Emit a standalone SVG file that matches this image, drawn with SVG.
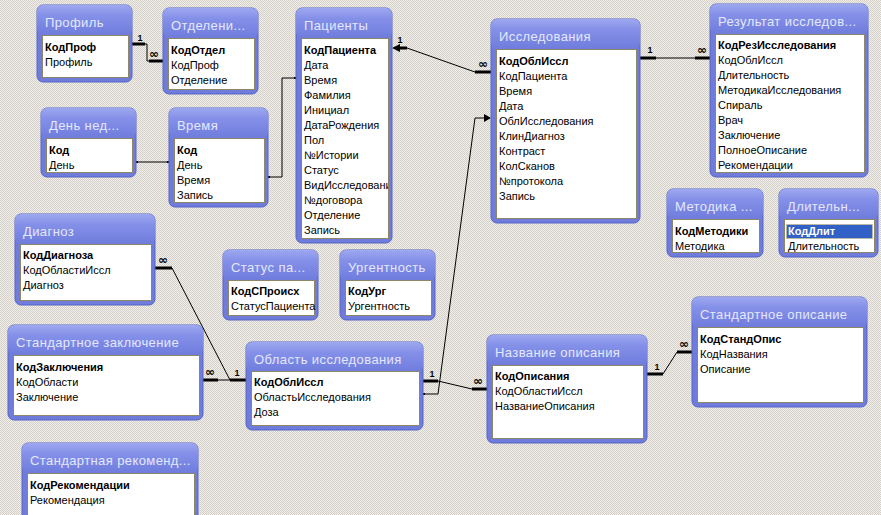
<svg xmlns="http://www.w3.org/2000/svg" width="881" height="515" viewBox="0 0 881 515">
<defs>
<pattern id="bg" width="2" height="2" patternUnits="userSpaceOnUse"><rect width="2" height="2" fill="#f1f0ec"/><rect width="1" height="1" fill="#d3cfc6"/><rect x="1" y="1" width="1" height="1" fill="#d3cfc6"/></pattern>
<linearGradient id="hd" x1="0" y1="0" x2="0" y2="1"><stop offset="0" stop-color="#9ea8f0"/><stop offset="0.35" stop-color="#8490e8"/><stop offset="1" stop-color="#6f7cdc"/></linearGradient>
<clipPath id="cpPac"><rect x="301" y="38" width="87" height="201"/></clipPath>
</defs>
<style>
.frame{fill:#6f7cdc;stroke:#5664c6;stroke-width:1}
.head{fill:url(#hd)}
.title{font-family:"Liberation Sans",Arial,sans-serif;font-size:13px;fill:#e4e8ff;letter-spacing:0.4px}
.list{fill:#ffffff;stroke:#8e8766;stroke-width:1}
.r{font-family:"Liberation Sans",Arial,sans-serif;font-size:11px;fill:#000}
.k{font-family:"Liberation Sans",Arial,sans-serif;font-size:11px;font-weight:bold;fill:#000}
.thin{fill:none;stroke:#000;stroke-width:1}
.thick{fill:none;stroke:#000;stroke-width:3}
.one{font-family:"Liberation Sans",Arial,sans-serif;font-size:9px;font-weight:bold;fill:#000;text-anchor:middle}
.inf{font-family:"DejaVu Sans",sans-serif;font-size:12px;font-weight:bold;fill:#000;text-anchor:middle}
</style>
<rect width="881" height="515" fill="url(#bg)"/>

<g id="connectors">
<!-- Профиль - Отделения -->
<polyline class="thin" points="132,44 147,44 147,61 163,61"/>
<line class="thick" x1="132" y1="44" x2="145" y2="44"/>
<line class="thick" x1="149" y1="61" x2="163" y2="61"/>
<text class="one" x="140" y="41">1</text>
<text class="inf" x="154" y="58">∞</text>
<!-- День недели - Время -->
<line class="thin" x1="136" y1="162" x2="169" y2="162"/>
<rect x="136" y="161" width="2" height="2"/><rect x="167" y="161" width="2" height="2"/>
<!-- Время - Пациенты -->
<polyline class="thin" points="268,177 282,177 282,78 296,78"/>
<rect x="268" y="176" width="2" height="2"/><rect x="294" y="77" width="2" height="2"/>
<!-- Исследования - Пациенты -->
<line class="thick" x1="398" y1="48" x2="407" y2="48"/>
<polygon points="392,48 400,44 400,52"/>
<polyline class="thin" points="407,48 475,72"/>
<line class="thick" x1="475" y1="72" x2="491" y2="72"/>
<text class="one" x="400" y="43">1</text>
<text class="inf" x="483" y="68">∞</text>
<!-- Исследования - Результат -->
<line class="thick" x1="640" y1="58" x2="656" y2="58"/>
<line class="thin" x1="656" y1="58" x2="695" y2="58"/>
<line class="thick" x1="695" y1="58" x2="710" y2="58"/>
<text class="one" x="650" y="53">1</text>
<text class="inf" x="702" y="54">∞</text>
<!-- Область исследования - Исследования -->
<polyline class="thin" points="423,394 438,394 475,118 486,118"/>
<polygon points="491,118 484,114 484,122"/>
<rect x="423" y="393" width="2" height="2"/>
<!-- Область исследования - Название описания -->
<line class="thick" x1="423" y1="381" x2="438" y2="381"/>
<polyline class="thin" points="438,381 472,389"/>
<line class="thick" x1="472" y1="389" x2="487" y2="389"/>
<text class="one" x="432" y="377">1</text>
<text class="inf" x="478" y="385">∞</text>
<!-- Диагноз - Область исследования -->
<line class="thick" x1="155" y1="268" x2="172" y2="268"/>
<polyline class="thin" points="172,268 230,380"/>
<line class="thick" x1="230" y1="380" x2="246" y2="380"/>
<text class="inf" x="163" y="264">∞</text>
<text class="one" x="237" y="376">1</text>
<!-- Стандартное заключение - Область исследования -->
<line class="thick" x1="203" y1="380" x2="218" y2="380"/>
<line class="thin" x1="218" y1="380" x2="230" y2="380"/>
<text class="inf" x="210" y="376">∞</text>
<!-- Название описания - Стандартное описание -->
<line class="thick" x1="647" y1="374" x2="663" y2="374"/>
<polyline class="thin" points="663,374 677,352"/>
<line class="thick" x1="677" y1="352" x2="692" y2="352"/>
<text class="one" x="657" y="370">1</text>
<text class="inf" x="684" y="348">∞</text>
</g>

<g id="t-profil">
<rect class="frame" x="37" y="5" width="95" height="77" rx="6"/>
<rect class="head" x="37" y="5" width="95" height="30" rx="6"/>
<text class="title" x="45" y="27">Профиль</text>
<rect class="list" x="42.5" y="35.5" width="86" height="42"/>
<text class="k" x="45" y="51">КодПроф</text>
<text class="r" x="45" y="66">Профиль</text>
</g>

<g id="t-otdel">
<rect class="frame" x="163" y="8" width="95" height="86" rx="6"/>
<rect class="head" x="163" y="8" width="95" height="30" rx="6"/>
<text class="title" x="171" y="30">Отделени...</text>
<rect class="list" x="168.5" y="38.5" width="86" height="51"/>
<text class="k" x="171" y="54">КодОтдел</text>
<text class="r" x="171" y="69">КодПроф</text>
<text class="r" x="171" y="84">Отделение</text>
</g>

<g id="t-pacienty">
<rect class="frame" x="296" y="8" width="96" height="235" rx="6"/>
<rect class="head" x="296" y="8" width="96" height="30" rx="6"/>
<text class="title" x="304" y="30">Пациенты</text>
<rect class="list" x="301.5" y="38.5" width="87" height="200"/>
<g clip-path="url(#cpPac)">
<text class="k" x="304" y="54">КодПациента</text>
<text class="r" x="304" y="69">Дата</text>
<text class="r" x="304" y="84">Время</text>
<text class="r" x="304" y="99">Фамилия</text>
<text class="r" x="304" y="114">Инициал</text>
<text class="r" x="304" y="129">ДатаРождения</text>
<text class="r" x="304" y="144">Пол</text>
<text class="r" x="304" y="159">№Истории</text>
<text class="r" x="304" y="174">Статус</text>
<text class="r" x="304" y="189">ВидИсследования</text>
<text class="r" x="304" y="204">№договора</text>
<text class="r" x="304" y="219">Отделение</text>
<text class="r" x="304" y="234">Запись</text>
</g>
</g>

<g id="t-issled">
<rect class="frame" x="491" y="19" width="149" height="204" rx="6"/>
<rect class="head" x="491" y="19" width="149" height="30" rx="6"/>
<text class="title" x="499" y="41">Исследования</text>
<rect class="list" x="496.5" y="49.5" width="140" height="169"/>
<text class="k" x="499" y="65">КодОблИссл</text>
<text class="r" x="499" y="80">КодПациента</text>
<text class="r" x="499" y="95">Время</text>
<text class="r" x="499" y="110">Дата</text>
<text class="r" x="499" y="125">ОблИсследования</text>
<text class="r" x="499" y="140">КлинДиагноз</text>
<text class="r" x="499" y="155">Контраст</text>
<text class="r" x="499" y="170">КолСканов</text>
<text class="r" x="499" y="185">№протокола</text>
<text class="r" x="499" y="200">Запись</text>
</g>

<g id="t-rezultat">
<rect class="frame" x="710" y="4" width="158" height="173" rx="6"/>
<rect class="head" x="710" y="4" width="158" height="30" rx="6"/>
<text class="title" x="718" y="26">Результат исследов...</text>
<rect class="list" x="715.5" y="34.5" width="149" height="138"/>
<text class="k" x="718" y="49">КодРезИсследования</text>
<text class="r" x="718" y="64">КодОблИссл</text>
<text class="r" x="718" y="79">Длительность</text>
<text class="r" x="718" y="94">МетодикаИсследования</text>
<text class="r" x="718" y="109">Спираль</text>
<text class="r" x="718" y="124">Врач</text>
<text class="r" x="718" y="139">Заключение</text>
<text class="r" x="718" y="154">ПолноеОписание</text>
<text class="r" x="718" y="169">Рекомендации</text>
</g>

<g id="t-metodika">
<rect class="frame" x="667" y="189" width="96" height="68" rx="6"/>
<rect class="head" x="667" y="189" width="96" height="30" rx="6"/>
<text class="title" x="675" y="211">Методика ...</text>
<rect class="list" x="672.5" y="219.5" width="87" height="33"/>
<text class="k" x="675" y="235">КодМетодики</text>
<text class="r" x="675" y="250">Методика</text>
</g>

<g id="t-dlit">
<rect class="frame" x="779" y="189" width="99" height="68" rx="6"/>
<rect class="head" x="779" y="189" width="99" height="30" rx="6"/>
<text class="title" x="787" y="211">Длительн...</text>
<rect class="list" x="784.5" y="219.5" width="90" height="33"/>
<rect x="786.5" y="224.5" width="86" height="14" fill="#3161c6" stroke="#d8c070" stroke-width="1" stroke-dasharray="1,1"/>
<text class="k" x="788" y="235" fill="#ffffff" style="fill:#ffffff">КодДлит</text>
<text class="r" x="788" y="250">Длительность</text>
</g>

<g id="t-den">
<rect class="frame" x="41" y="108" width="95" height="69" rx="6"/>
<rect class="head" x="41" y="108" width="95" height="30" rx="6"/>
<text class="title" x="49" y="130">День нед...</text>
<rect class="list" x="46.5" y="138.5" width="86" height="34"/>
<text class="k" x="49" y="154">Код</text>
<text class="r" x="49" y="169">День</text>
</g>

<g id="t-vremya">
<rect class="frame" x="169" y="108" width="99" height="99" rx="6"/>
<rect class="head" x="169" y="108" width="99" height="30" rx="6"/>
<text class="title" x="177" y="130">Время</text>
<rect class="list" x="174.5" y="138.5" width="90" height="64"/>
<text class="k" x="177" y="154">Код</text>
<text class="r" x="177" y="169">День</text>
<text class="r" x="177" y="184">Время</text>
<text class="r" x="177" y="199">Запись</text>
</g>

<g id="t-diagnoz">
<rect class="frame" x="15" y="214" width="140" height="91" rx="6"/>
<rect class="head" x="15" y="214" width="140" height="30" rx="6"/>
<text class="title" x="23" y="236">Диагноз</text>
<rect class="list" x="20.5" y="244.5" width="131" height="56"/>
<text class="k" x="23" y="259">КодДиагноза</text>
<text class="r" x="23" y="274">КодОбластиИссл</text>
<text class="r" x="23" y="289">Диагноз</text>
</g>

<g id="t-status">
<rect class="frame" x="223" y="250" width="95" height="70" rx="6"/>
<rect class="head" x="223" y="250" width="95" height="30" rx="6"/>
<text class="title" x="231" y="272">Статус па...</text>
<rect class="list" x="228.5" y="280.5" width="86" height="35"/>
<text class="k" x="231" y="295">КодСПроисх</text>
<text class="r" x="231" y="310">СтатусПациента</text>
</g>

<g id="t-urgent">
<rect class="frame" x="340" y="250" width="95" height="70" rx="6"/>
<rect class="head" x="340" y="250" width="95" height="30" rx="6"/>
<text class="title" x="348" y="272">Ургентность</text>
<rect class="list" x="345.5" y="280.5" width="86" height="35"/>
<text class="k" x="348" y="295">КодУрг</text>
<text class="r" x="348" y="310">Ургентность</text>
</g>

<g id="t-zakl">
<rect class="frame" x="8" y="325" width="195" height="95" rx="6"/>
<rect class="head" x="8" y="325" width="195" height="30" rx="6"/>
<text class="title" x="16" y="347">Стандартное заключение</text>
<rect class="list" x="13.5" y="355.5" width="186" height="60"/>
<text class="k" x="16" y="371">КодЗаключения</text>
<text class="r" x="16" y="386">КодОбласти</text>
<text class="r" x="16" y="401">Заключение</text>
</g>

<g id="t-oblast">
<rect class="frame" x="246" y="342" width="177" height="88" rx="6"/>
<rect class="head" x="246" y="342" width="177" height="30" rx="6"/>
<text class="title" x="254" y="364">Область исследования</text>
<rect class="list" x="251.5" y="371.5" width="168" height="54"/>
<text class="k" x="254" y="386">КодОблИссл</text>
<text class="r" x="254" y="401">ОбластьИсследования</text>
<text class="r" x="254" y="416">Доза</text>
</g>

<g id="t-nazv">
<rect class="frame" x="487" y="335" width="160" height="108" rx="6"/>
<rect class="head" x="487" y="335" width="160" height="30" rx="6"/>
<text class="title" x="495" y="357">Название описания</text>
<rect class="list" x="492.5" y="365.5" width="151" height="73"/>
<text class="k" x="495" y="380">КодОписания</text>
<text class="r" x="495" y="395">КодОбластиИссл</text>
<text class="r" x="495" y="410">НазваниеОписания</text>
</g>

<g id="t-stopis">
<rect class="frame" x="692" y="297" width="175" height="110" rx="6"/>
<rect class="head" x="692" y="297" width="175" height="30" rx="6"/>
<text class="title" x="700" y="319">Стандартное описание</text>
<rect class="list" x="697.5" y="327.5" width="166" height="75"/>
<text class="k" x="700" y="343">КодСтандОпис</text>
<text class="r" x="700" y="358">КодНазвания</text>
<text class="r" x="700" y="373">Описание</text>
</g>

<g id="t-rekom">
<rect class="frame" x="22" y="443" width="176" height="80" rx="6"/>
<rect class="head" x="22" y="443" width="176" height="30" rx="6"/>
<text class="title" x="30" y="465">Стандартная рекоменд...</text>
<rect class="list" x="27.5" y="473.5" width="167" height="50"/>
<text class="k" x="30" y="489">КодРекомендации</text>
<text class="r" x="30" y="504">Рекомендация</text>
</g>
</svg>
